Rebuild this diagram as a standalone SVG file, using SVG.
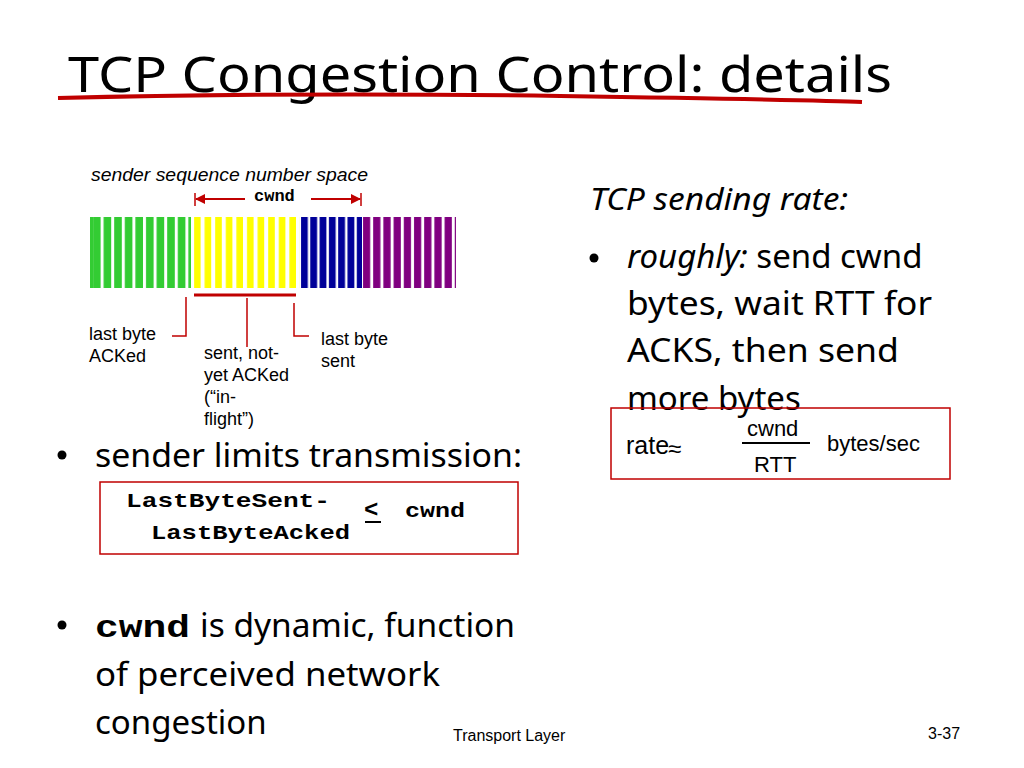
<svg xmlns="http://www.w3.org/2000/svg" width="1024" height="768" viewBox="0 0 1024 768">
<defs>
<style>
.t{font-family:"Liberation Sans",Arial,sans-serif;fill:#000}
.g{font-family:"Noto Sans","Liberation Sans",sans-serif;fill:#000}
.m{font-family:"Liberation Mono","Courier New",monospace;font-weight:bold;fill:#000}
.r{stroke:#c00000;fill:none}
</style>
<pattern id="pg" width="10.6" height="10" patternUnits="userSpaceOnUse" x="90"><rect x="3" width="7.6" height="10" fill="#33cc33"/></pattern>
<pattern id="py" width="10.6" height="10" patternUnits="userSpaceOnUse" x="190"><rect x="4" width="7.6" height="10" fill="#ffff00"/></pattern>
<pattern id="pb" width="9.3" height="10" patternUnits="userSpaceOnUse" x="300"><rect x="1" width="6.8" height="10" fill="#000099"/></pattern>
<pattern id="pp" width="10.2" height="10" patternUnits="userSpaceOnUse" x="362"><rect x="1" width="7.2" height="10" fill="#800080"/></pattern>
<marker id="ar" viewBox="0 0 10 10" refX="9" refY="5" markerWidth="5" markerHeight="5" orient="auto-start-reverse"><path d="M0,0L10,5L0,10z" fill="#c00000"/></marker>
</defs>
<rect width="1024" height="768" fill="#fff"/>
<text class="g" x="68" y="92" font-size="50" textLength="824" lengthAdjust="spacingAndGlyphs">TCP Congestion Control: details</text>
<path d="M58,98 Q300,92 560,96 T862,102" stroke="#c00000" stroke-width="4" fill="none"/>
<g id="seqspace">
<text class="t" x="91" y="181" font-size="19" font-style="italic" textLength="277" lengthAdjust="spacingAndGlyphs">sender sequence number space</text>
<text class="m" x="254" y="201" font-size="17">cwnd</text>
<line class="r" x1="195" y1="193" x2="195" y2="206" stroke-width="1.5"/>
<line class="r" x1="361" y1="193" x2="361" y2="206" stroke-width="1.5"/>
<line class="r" x1="245" y1="199" x2="196" y2="199" stroke-width="2" marker-end="url(#ar)"/>
<line class="r" x1="311" y1="199" x2="360" y2="199" stroke-width="2" marker-end="url(#ar)"/>
<rect x="90" y="217" width="101" height="71" fill="url(#pg)"/>
<rect x="90" y="217" width="3" height="71" fill="#33cc33"/>
<rect x="194" y="217" width="106" height="71" fill="url(#py)"/>
<rect x="301" y="217" width="61" height="71" fill="url(#pb)"/>
<rect x="363" y="217" width="93" height="71" fill="url(#pp)"/>
<line class="r" x1="194" y1="295" x2="296" y2="295" stroke-width="3"/>
<path class="r" d="M186,297V336H172" stroke-width="1.5"/>
<path class="r" d="M247,298V347" stroke-width="1.5"/>
<path class="r" d="M294,303V336H309" stroke-width="1.5"/>
<text class="t" font-size="18"><tspan x="89" y="340">last byte</tspan><tspan x="89" y="362">ACKed</tspan></text>
<text class="t" font-size="18"><tspan x="204" y="359">sent, not-</tspan><tspan x="204" y="381">yet ACKed</tspan><tspan x="204" y="403">(“in-</tspan><tspan x="204" y="425">flight”)</tspan></text>
<text class="t" font-size="18"><tspan x="321" y="345">last byte</tspan><tspan x="321" y="367">sent</tspan></text>
</g>
<g id="rate">
<text class="g" x="590" y="210" font-size="31" font-style="italic" textLength="258" lengthAdjust="spacingAndGlyphs">TCP sending rate:</text>
<circle cx="594" cy="258" r="4.5" fill="#000"/>
<text class="g" font-size="33"><tspan x="627" y="268" font-style="italic">roughly:</tspan><tspan> send cwnd</tspan></text>
<text class="g" font-size="33" x="627" y="315" textLength="305" lengthAdjust="spacingAndGlyphs">bytes, wait RTT for</text>
<text class="g" font-size="33" x="627" y="362" textLength="272" lengthAdjust="spacingAndGlyphs">ACKS, then send</text>
<text class="g" font-size="33" x="627" y="410">more bytes</text>
<rect class="r" x="611" y="408" width="339" height="71" stroke-width="1.5"/>
<text class="t" x="626" y="454" font-size="25">rate</text>
<text class="t" x="668" y="457" font-size="24">≈</text>
<text class="t" x="747" y="436" font-size="22">cwnd</text>
<line x1="742" y1="443" x2="810" y2="443" stroke="#000" stroke-width="2"/>
<text class="t" x="754" y="472" font-size="22">RTT</text>
<text class="t" x="827" y="451" font-size="22">bytes/sec</text>
</g>
<g id="limits">
<circle cx="62" cy="455" r="4.5" fill="#000"/>
<text class="g" font-size="33" x="95" y="467" textLength="427" lengthAdjust="spacingAndGlyphs">sender limits transmission:</text>
<rect class="r" x="100" y="482" width="418" height="72" stroke-width="1.5"/>
<text class="m" font-size="21" x="126" y="507" textLength="204" lengthAdjust="spacingAndGlyphs">LastByteSent-</text>
<text class="m" font-size="21" x="151" y="539" textLength="199" lengthAdjust="spacingAndGlyphs">LastByteAcked</text>
<text class="m" x="364" y="517" font-size="24">&lt;</text>
<line x1="365" y1="522" x2="381" y2="522" stroke="#000" stroke-width="2"/>
<text class="m" x="405" y="517" font-size="21" textLength="60" lengthAdjust="spacingAndGlyphs">cwnd</text>
</g>
<g id="dynamic">
<circle cx="62" cy="625" r="4.5" fill="#000"/>
<text class="m" x="95" y="637" font-size="32" textLength="95" lengthAdjust="spacingAndGlyphs">cwnd</text>
<text class="g" font-size="33" x="200" y="637" textLength="315" lengthAdjust="spacingAndGlyphs">is dynamic, function</text>
<text class="g" font-size="33" x="95" y="686" textLength="345" lengthAdjust="spacingAndGlyphs">of perceived network</text>
<text class="g" font-size="33" x="95" y="734">congestion</text>
</g>
<text class="t" x="453" y="741" font-size="16">Transport Layer</text>
<text class="t" x="928" y="739" font-size="16">3-37</text>
</svg>
